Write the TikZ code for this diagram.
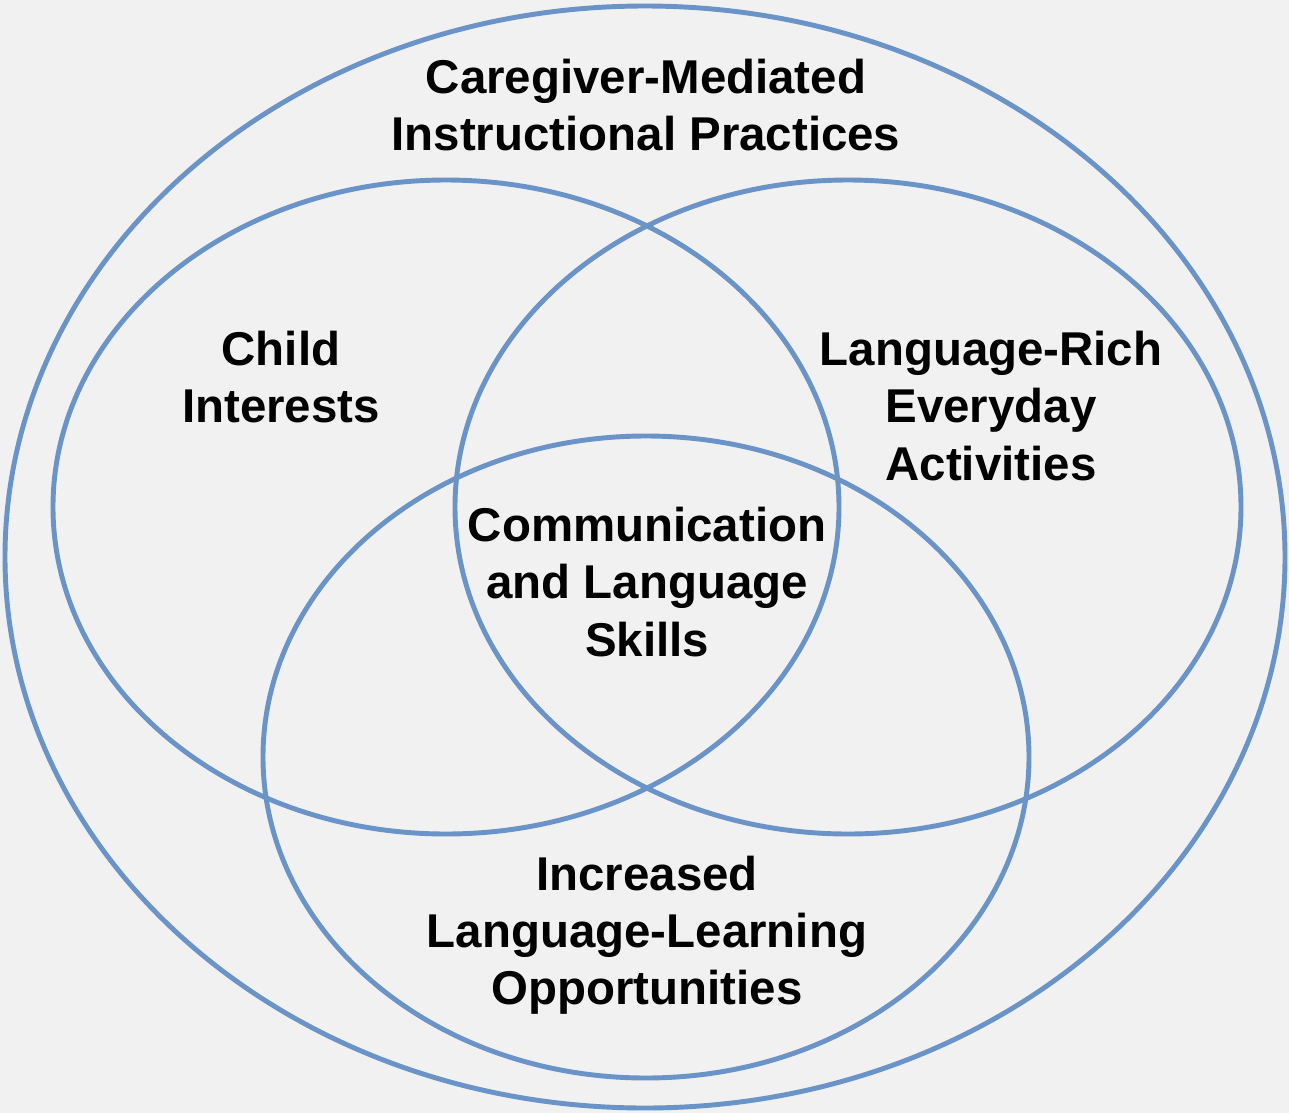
\documentclass[tikz,border=0pt]{standalone}
\usepackage{fontspec}
\setmainfont{Liberation Sans}
\definecolor{ringblue}{HTML}{6A93C8}
\definecolor{bggray}{HTML}{F1F1F1}
\begin{document}
\begin{tikzpicture}[x=0.02cm,y=-0.02cm,
  ring/.style={draw=ringblue,line width=2.8pt},
  lbl/.style={align=center,font=\fontsize{27}{32.5}\selectfont\bfseries,text=black,inner sep=0pt}]
\fill[bggray] (0,0) rectangle (1289,1113);
\useasboundingbox (0,0) rectangle (1289,1113);
\draw[ring] (645,557) ellipse [x radius=640,y radius=551];
\draw[ring] (446,507) ellipse [x radius=393,y radius=327];
\draw[ring] (848,507) ellipse [x radius=393,y radius=327];
\draw[ring] (646,757) ellipse [x radius=383,y radius=321];
\node[lbl] (outer) at (646,105) {Caregiver-Mediated\\Instructional Practices};
\node[lbl] (child) at (281,377) {Child\\Interests};
\node[lbl] (rich) at (991,406) {Language-Rich\\Everyday\\Activities};
\node[lbl] (core) at (647,582) {Communication\\and Language\\Skills};
\node[lbl] (incr) at (647,935) {Increased\\Language-Learning\\Opportunities};
\end{tikzpicture}
\end{document}
